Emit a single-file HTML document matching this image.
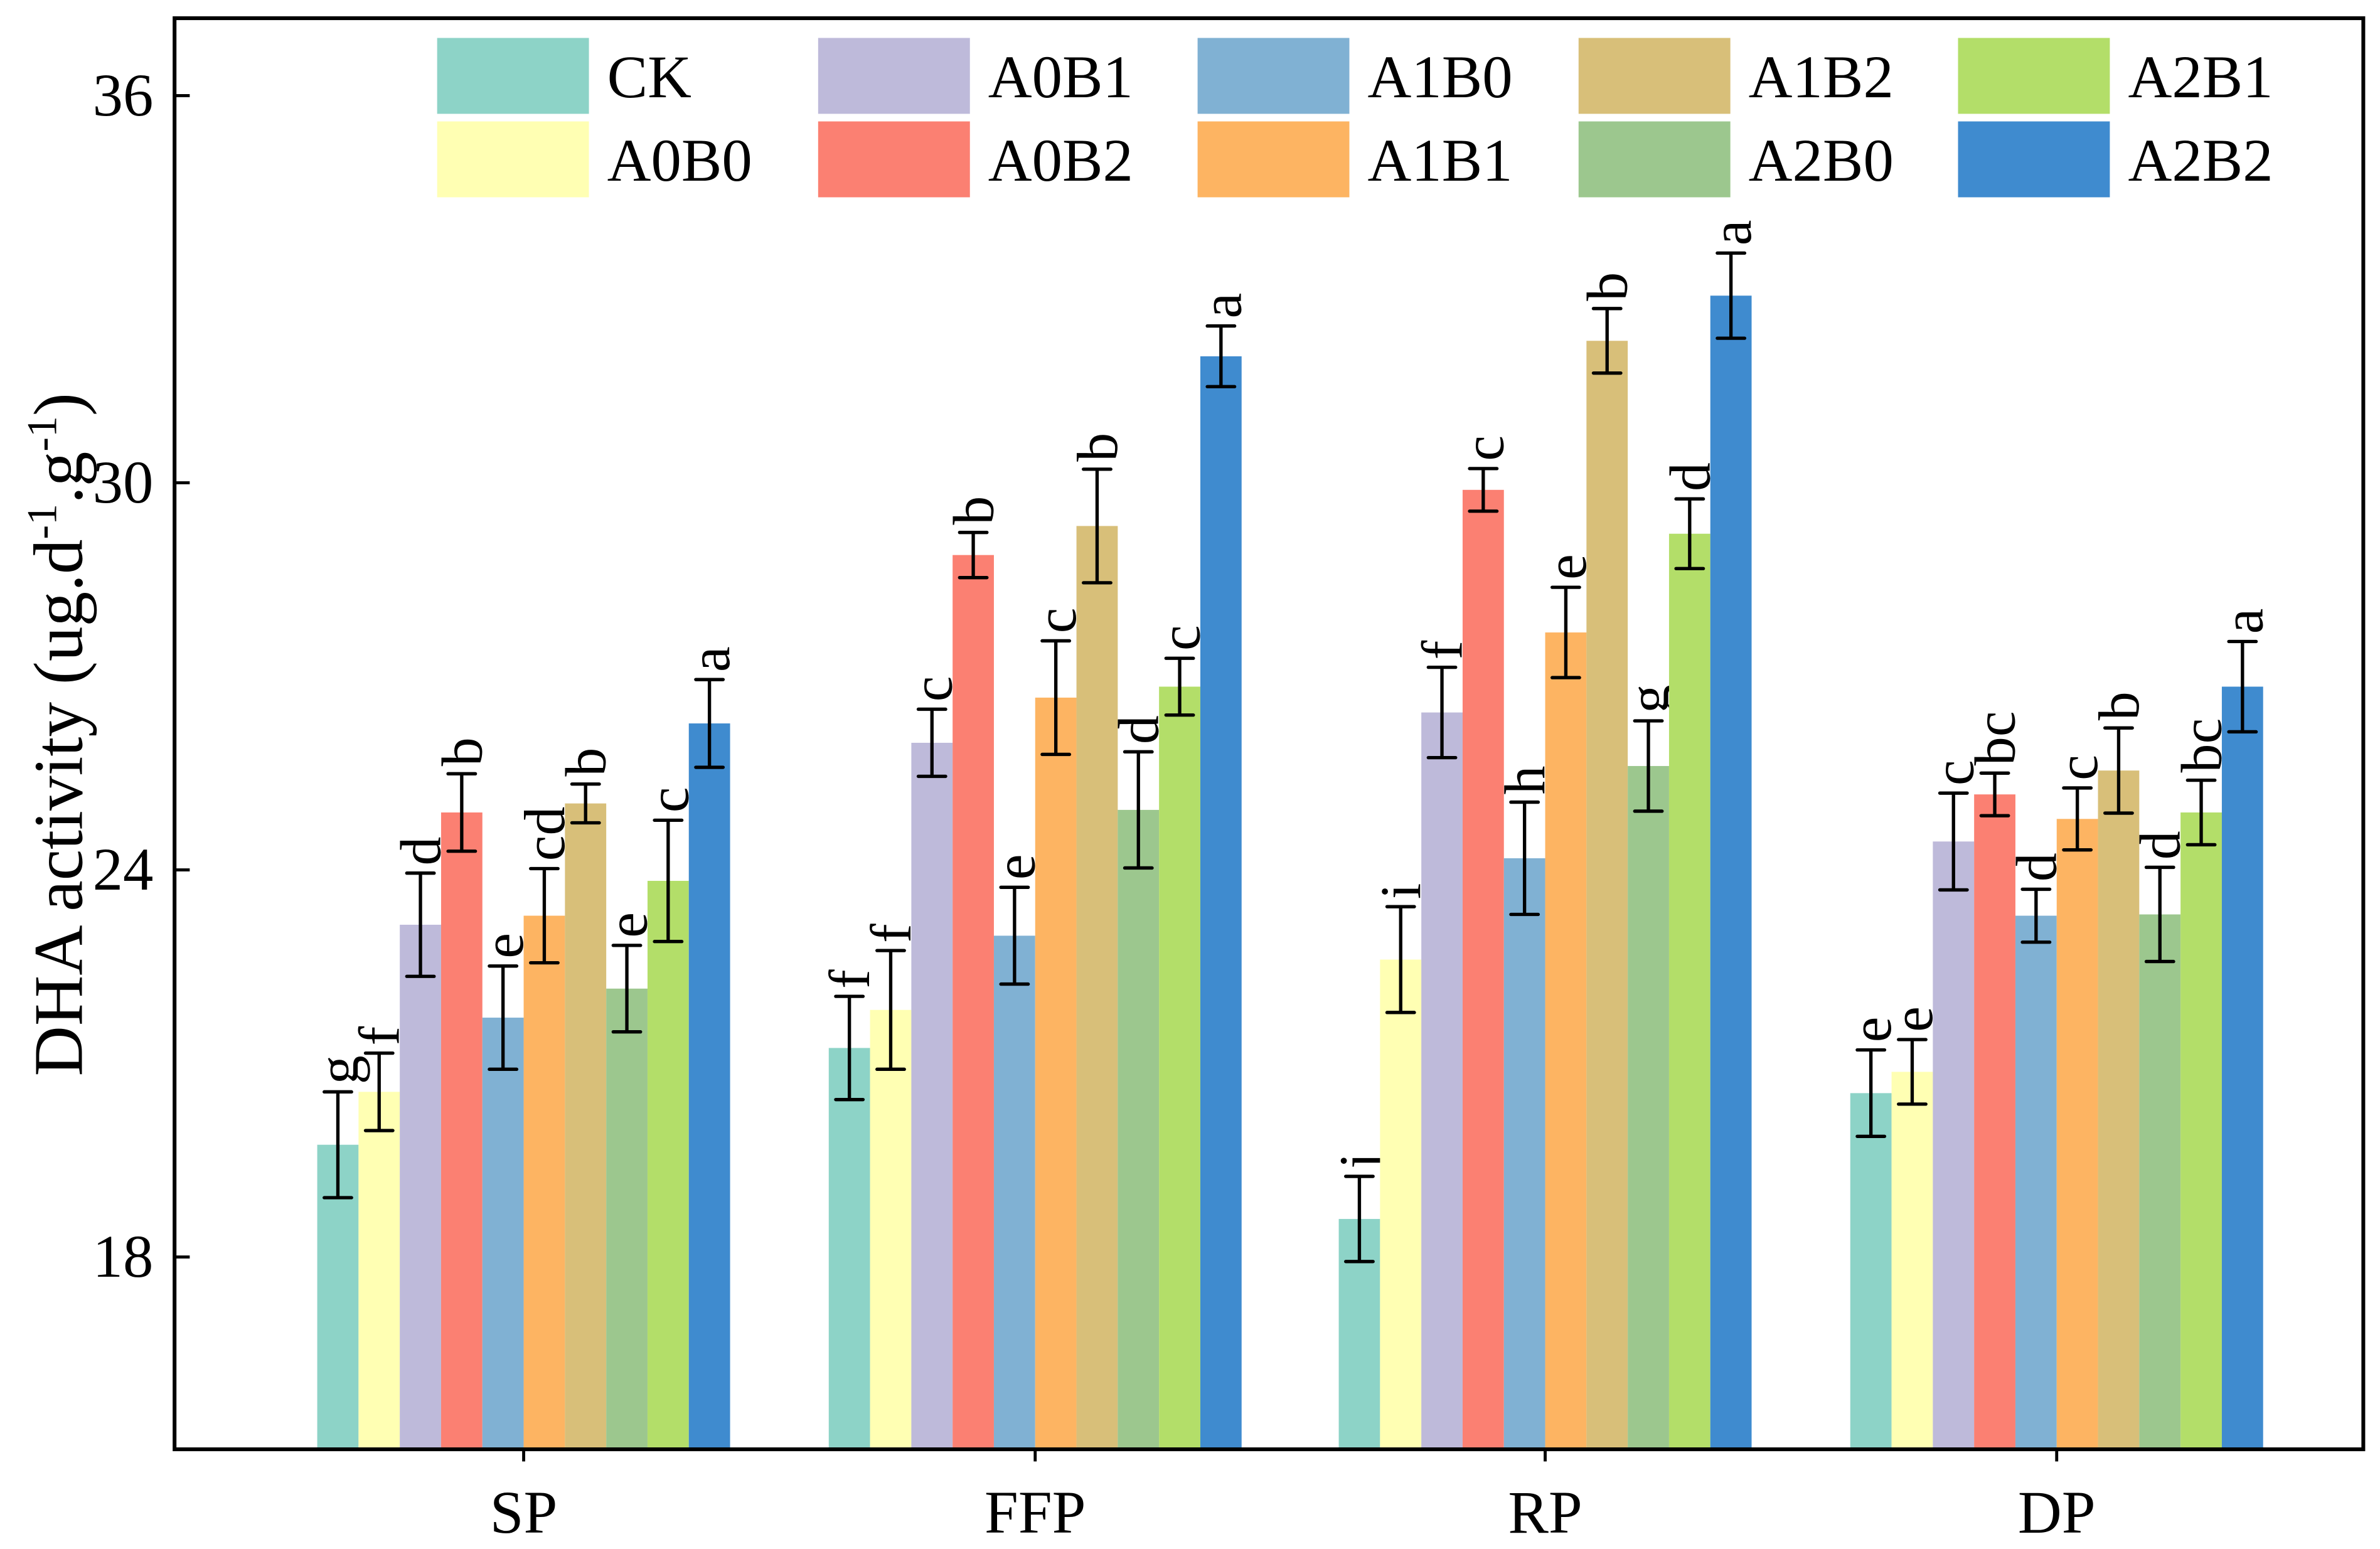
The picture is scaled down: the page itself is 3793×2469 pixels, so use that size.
<!DOCTYPE html>
<html><head><meta charset="utf-8"><style>
html,body{margin:0;padding:0;background:#fff;}
svg{display:block;}
svg text{font-family:"Liberation Serif","Times New Roman",serif;}
</style></head><body>
<svg id="chart" width="3793" height="2469" viewBox="0 0 1568 1020.7" preserveAspectRatio="none" xmlns="http://www.w3.org/2000/svg"></svg>
<script>
const groups = ["SP","FFP","RP","DP"];
const treatments = ["CK","A0B0","A0B1","A0B2","A1B0","A1B1","A1B2","A2B0","A2B1","A2B2"];
const colors = ["#8dd3c7","#ffffb3","#bebada","#fb8072","#80b1d3","#fdb462","#d8bf79","#9cc78e","#b3de69","#3f8bcf"];
const spVals = [19.74,20.56,23.15,24.89,21.71,23.29,25.03,22.16,23.83,26.27];
const ffpVals = [21.24,21.83,25.97,28.88,22.98,26.67,29.33,24.93,26.84,31.96];
const rpVals = [18.59,22.61,26.44,29.89,24.18,27.68,32.2,25.61,29.21,32.9];
const dpVals = [20.54,20.87,24.44,25.17,23.29,24.79,25.54,23.31,24.89,26.84];
const spErr = [0.82,0.6,0.8,0.6,0.8,0.73,0.3,0.67,0.94,0.68];
const ffpErr = [0.8,0.92,0.52,0.35,0.75,0.88,0.88,0.9,0.44,0.47];
const rpErr = [0.66,0.82,0.7,0.33,0.87,0.7,0.5,0.7,0.54,0.66];
const dpErr = [0.67,0.5,0.75,0.33,0.41,0.48,0.66,0.73,0.5,0.7];
const spLet = ["g","f","d","b","e","cd","b","e","c","a"];
const ffpLet = ["f","f","c","b","e","c","b","d","c","a"];
const rpLet = ["j","i","f","c","h","e","b","g","d","a"];
const dpLet = ["e","e","c","bc","d","c","b","d","bc","a"];
const yTicks = [18,24,30,36];

const values=[spVals,ffpVals,rpVals,dpVals], errs=[spErr,ffpErr,rpErr,dpErr], lets=[spLet,ffpLet,rpLet,dpLet];
const svg=document.getElementById('chart');
const NS="http://www.w3.org/2000/svg";
const FF='Liberation Serif, serif';
const L=115,R=1557,T=12,B=955;
const yMin=15.02,yMax=37.2;
const y=v=>B-(v-yMin)/(yMax-yMin)*(B-T);
const groupCenters=[345,682,1018,1355];
const bw=27.2;
const x=(g,i)=>groupCenters[g]-5*bw+i*bw;
function mk(tag,attrs,parent){const e=document.createElementNS(NS,tag);for(const k in attrs)e.setAttribute(k,attrs[k]);if(tag==='text')e.setAttribute('font-family',FF);(parent||svg).appendChild(e);return e;}

groups.forEach((gname,g)=>{
  treatments.forEach((t,i)=>{
    const v=values[g][i],er=errs[g][i],x0=x(g,i),cx=x0+bw/2;
    const r=mk('rect',{x:x0,y:y(v),width:bw,height:B-y(v),fill:colors[i]});
    
    
    const eb=mk('path',{d:`M${cx},${y(v+er)}V${y(v-er)}M${cx-9},${y(v+er)}H${cx+9}M${cx-9},${y(v-er)}H${cx+9}`,stroke:'#000','stroke-width':2.2,fill:'none','stroke-linecap':'round'});
    
    
    const tx=mk('text',{x:0,y:0,transform:`translate(${cx+13},${y(v+er)-5}) rotate(-90)`,'font-size':38});
    tx.textContent=lets[g][i];
    
    
  });
  const gl=mk('text',{x:groupCenters[g],y:1010,'text-anchor':'middle','font-size':40});
  gl.textContent=gname;
  
  
  const tk=mk('line',{x1:groupCenters[g],x2:groupCenters[g],y1:B,y2:B+8,stroke:'#000','stroke-width':2});
  
  
});
yTicks.forEach(v=>{
  const tk=mk('line',{x1:L,x2:L+10,y1:y(v),y2:y(v),stroke:'#000','stroke-width':2});
  
  
  const tl=mk('text',{x:L-14,y:y(v)+13,'text-anchor':'end','font-size':40});
  tl.textContent=v;
  
  
});
const frame=mk('rect',{x:L,y:T,width:R-L,height:B-T,fill:'none',stroke:'#000','stroke-width':2.5});


const legX=[288,539,789,1040,1290];
treatments.forEach((t,i)=>{
  const col=Math.floor(i/2),row=i%2;
  const sw=mk('rect',{x:legX[col],y:25+row*55,width:100,height:50,fill:colors[i]});
  
  
  const lt=mk('text',{x:legX[col]+112,y:64+row*55,'font-size':40});
  lt.textContent=t;
  
  
});
const yt=mk('text',{x:0,y:0,transform:'translate(54,484) rotate(-90)','text-anchor':'middle','font-size':46});
yt.innerHTML='DHA activity (ug.d<tspan dy="-17" font-size="28">-1</tspan><tspan dy="17">.g</tspan><tspan dy="-17" font-size="28">-1</tspan><tspan dy="17">)</tspan>';


</script>
</body></html>
